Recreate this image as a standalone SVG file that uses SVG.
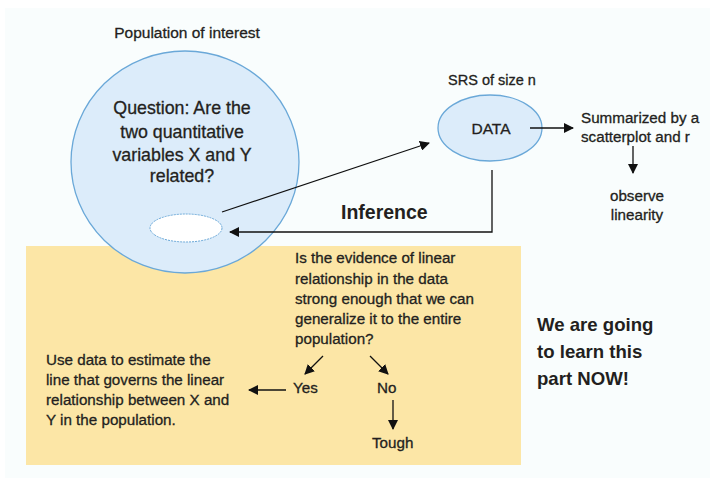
<svg xmlns="http://www.w3.org/2000/svg" width="715" height="485" viewBox="0 0 715 485">
  <defs>
    <marker id="arrow" viewBox="0 0 10 10" refX="9" refY="5" markerWidth="10" markerHeight="10" markerUnits="userSpaceOnUse" orient="auto">
      <path d="M0,0 L10,5 L0,10 z" fill="#111"/>
    </marker>
    <style>
      text { font-family: "Liberation Sans", Arial, sans-serif; fill: #231f20; stroke: #231f20; stroke-width: 0.3px; }
      .t14 { font-size: 15.2px; }
      .t16 { font-size: 17.8px; }
      .bold { font-weight: bold; font-size: 18.6px; stroke-width: 0; }
      .mid { text-anchor: middle; }
      .conn { stroke: #111; stroke-width: 1.3; fill: none; marker-end: url(#arrow); }
    </style>
  </defs>

  <!-- page background -->
  <rect x="0" y="0" width="715" height="485" fill="#ffffff"/>
  <rect x="5" y="8" width="705" height="470" fill="#f9fdfd"/>

  <!-- shaded panel for the part covered now -->
  <g id="panel">
    <rect x="26" y="246" width="495" height="219" fill="#fce6a6"/>
  </g>

  <!-- population -->
  <g id="population">
    <text class="mid" x="187" y="38" style="font-size:15.5px">Population of interest</text>
    <ellipse cx="185" cy="162" rx="114" ry="111" fill="#dcecfa" stroke="#6aa8d8" stroke-width="1.3"/>
    <text class="t16 mid" x="182" y="114">Question: Are the</text>
    <text class="t16 mid" x="182" y="138">two quantitative</text>
    <text class="t16 mid" x="182" y="161">variables X and Y</text>
    <text class="t16 mid" x="182" y="182">related?</text>
  </g>

  <!-- sample inside population -->
  <g id="sample">
    <ellipse cx="186" cy="228" rx="36" ry="14" fill="#ffffff" stroke="#6aa8d8" stroke-width="1" stroke-dasharray="2,1"/>
  </g>

  <!-- data -->
  <g id="data">
    <text class="mid" x="492" y="85" style="font-size:14.5px">SRS of size n</text>
    <ellipse cx="490" cy="128" rx="52" ry="33" fill="#dcecfa" stroke="#6aa8d8" stroke-width="1.3"/>
    <text class="mid" x="491" y="134" style="font-size:15.5px">DATA</text>
  </g>

  <g id="summary">
    <text class="t14" x="581" y="123">Summarized by a</text>
    <text class="t14" x="581" y="142">scatterplot and r</text>
  </g>

  <g id="linearity">
    <text class="t14 mid" x="637" y="201">observe</text>
    <text class="t14 mid" x="637" y="220">linearity</text>
  </g>

  <g id="inference-label">
    <text class="bold" x="341" y="219" style="font-size:19.5px">Inference</text>
  </g>

  <g id="question">
    <text class="t14" x="295" y="263">Is the evidence of linear</text>
    <text class="t14" x="295" y="284">relationship in the data</text>
    <text class="t14" x="295" y="304">strong enough that we can</text>
    <text class="t14" x="295" y="324">generalize it to the entire</text>
    <text class="t14" x="295" y="344">population?</text>
  </g>

  <g id="yes"><text class="t14" x="293" y="393">Yes</text></g>
  <g id="no"><text class="t14" x="377" y="393">No</text></g>
  <g id="tough"><text class="t14" x="372" y="448">Tough</text></g>

  <g id="estimate">
    <text class="t14" x="46" y="365">Use data to estimate the</text>
    <text class="t14" x="46" y="385">line that governs the linear</text>
    <text class="t14" x="46" y="405">relationship between X and</text>
    <text class="t14" x="46" y="425">Y in the population.</text>
  </g>

  <g id="note">
    <text class="bold" x="537" y="331">We are going</text>
    <text class="bold" x="537" y="358">to learn this</text>
    <text class="bold" x="537" y="385">part NOW!</text>
  </g>

  <!-- connectors -->
  <g id="connectors">
    <line class="conn" x1="222" y1="212" x2="429" y2="143"/>
    <line class="conn" x1="530" y1="128" x2="573" y2="128"/>
    <line class="conn" x1="633" y1="146" x2="633" y2="173"/>
    <polyline class="conn" points="492,170 492,232 230,232"/>
    <line class="conn" x1="323" y1="356" x2="305" y2="374"/>
    <line class="conn" x1="370" y1="356" x2="388" y2="374"/>
    <line class="conn" x1="393" y1="400" x2="393" y2="429"/>
    <line class="conn" x1="286" y1="390" x2="249" y2="390"/>
  </g>
</svg>
